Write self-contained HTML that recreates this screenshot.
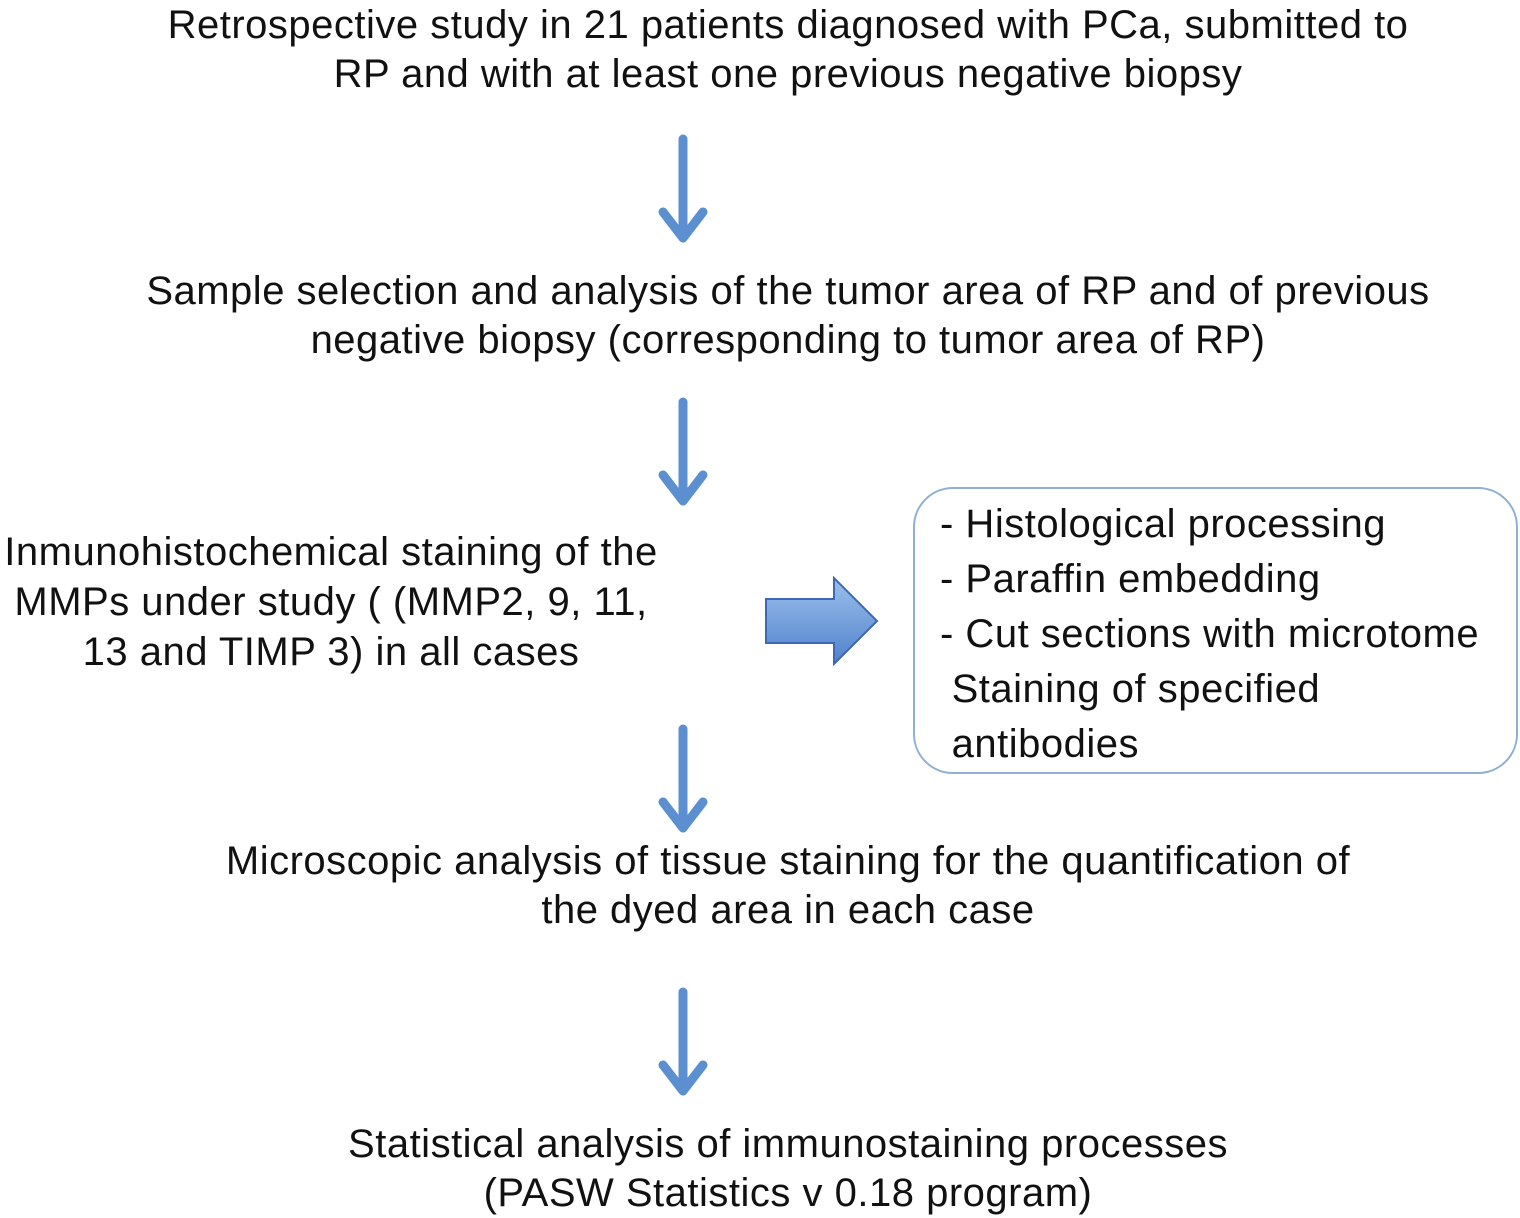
<!DOCTYPE html>
<html><head><style>
body{margin:0;width:1520px;height:1218px;background:#fff;position:relative;overflow:hidden;font-family:"Liberation Sans",Arial,sans-serif;font-size:40px;letter-spacing:0.5px;color:#111;}
.t{position:absolute;line-height:49px;white-space:nowrap;}
.c{left:0;width:1576px;text-align:center;}
</style></head><body>
<div class="t c" style="top:1px">Retrospective study in 21 patients diagnosed with PCa, submitted to<br>RP and with at least one previous negative biopsy</div>
<div class="t c" style="top:267px">Sample selection and analysis of the tumor area of RP and of previous<br>negative biopsy (corresponding to tumor area of RP)</div>
<div class="t" style="top:527px;left:0;width:662px;text-align:center;line-height:50px">Inmunohistochemical staining of the<br>MMPs under study ( (MMP2, 9, 11,<br>13 and TIMP 3) in all cases</div>
<div class="t c" style="top:837px">Microscopic analysis of tissue staining for the quantification of<br>the dyed area in each case</div>
<div class="t c" style="top:1120px">Statistical analysis of immunostaining processes<br>(PASW Statistics v 0.18 program)</div>
<div style="position:absolute;left:913px;top:487px;width:601px;height:283px;border:2px solid #8fb0d6;border-radius:40px;"></div>
<div class="t" style="top:497px;left:940px;line-height:55px">- Histological processing<br>- Paraffin embedding<br>- Cut sections with microtome<br>&nbsp;Staining of specified<br>&nbsp;antibodies</div>
<svg width="1520" height="1218" style="position:absolute;left:0;top:0">
<defs><linearGradient id="g" x1="0" y1="0" x2="0" y2="1"><stop offset="0" stop-color="#9cc0ec"/><stop offset="1" stop-color="#4f82cc"/></linearGradient></defs>
<g stroke="#5b8fcf" stroke-width="9" fill="none" stroke-linecap="round" stroke-linejoin="round">
<path d="M683 139V238M663 212L683 238L703 212"/>
<path d="M683 402V501M663 475L683 501L703 475"/>
<path d="M683 729V828M663 802L683 828L703 802"/>
<path d="M683 992V1091M663 1065L683 1091L703 1065"/>
</g>
<path d="M766 599H834V578L877 621L834 664V643H766Z" fill="url(#g)" stroke="#3f68b5" stroke-width="2"/>
</svg>
</body></html>
